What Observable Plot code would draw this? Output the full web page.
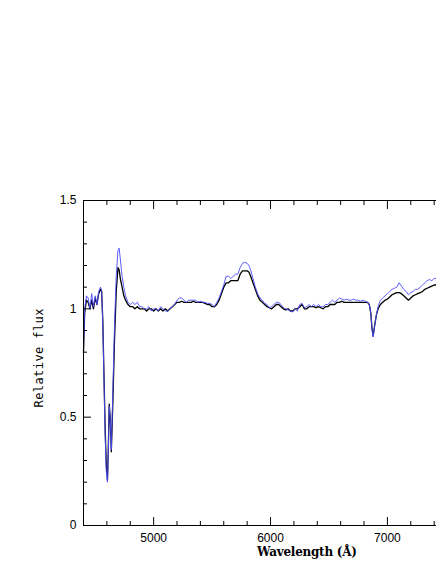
<!DOCTYPE html>
<html><head><meta charset="utf-8">
<script src="https://cdn.jsdelivr.net/npm/d3@7"></script>
<script src="https://cdn.jsdelivr.net/npm/@observablehq/plot@0.6"></script>
<style>
html,body{margin:0;padding:0;background:#fff;overflow:hidden;}
</style>
</head><body>
<div id="chart"></div>
<script>
const wavelength = [4400,4410,4425,4440,4455,4470,4485,4500,4515,4530,4545,4555,4565,4575,4585,4595,4605,4612,4620,4628,4638,4650,4665,4680,4695,4705,4715,4730,4745,4760,4780,4800,4820,4840,4860,4880,4900,4920,4940,4960,4980,5000,5020,5040,5060,5080,5100,5120,5140,5160,5180,5200,5220,5240,5260,5280,5300,5320,5340,5360,5380,5400,5420,5440,5460,5480,5500,5520,5540,5560,5580,5600,5620,5640,5660,5680,5700,5720,5740,5760,5780,5800,5815,5830,5850,5870,5890,5910,5930,5950,5970,5990,6010,6030,6050,6070,6090,6110,6130,6150,6170,6190,6210,6230,6250,6270,6290,6310,6330,6350,6370,6390,6410,6430,6450,6470,6490,6510,6530,6550,6570,6590,6610,6630,6650,6670,6690,6710,6730,6750,6770,6790,6810,6830,6845,6858,6868,6878,6890,6905,6920,6940,6960,6980,7000,7020,7040,7060,7080,7100,7120,7140,7160,7180,7200,7220,7240,7260,7280,7300,7320,7340,7360,7380,7400,7420];
const fluxBlack = [0.80,0.98,1.04,1.03,1.00,1.04,1.00,1.05,1.02,1.07,1.09,1.08,0.95,0.70,0.45,0.28,0.21,0.35,0.56,0.50,0.34,0.55,0.85,1.08,1.19,1.18,1.14,1.10,1.06,1.04,1.02,1.01,1.01,1.00,1.01,1.00,1.00,1.00,0.99,1.00,1.00,0.99,1.00,0.99,1.00,0.99,1.00,0.99,1.00,1.01,1.02,1.03,1.03,1.035,1.03,1.03,1.03,1.03,1.035,1.03,1.03,1.03,1.03,1.025,1.02,1.02,1.01,1.01,1.02,1.04,1.07,1.10,1.12,1.12,1.13,1.13,1.13,1.13,1.16,1.175,1.175,1.175,1.17,1.15,1.12,1.09,1.06,1.04,1.03,1.02,1.01,1.005,1.00,1.01,1.02,1.02,1.01,1.00,0.995,1.00,0.99,0.99,1.00,1.00,1.01,1.02,1.00,1.00,1.01,1.01,1.01,1.005,1.01,1.005,1.00,1.01,1.01,1.02,1.02,1.02,1.03,1.03,1.035,1.03,1.03,1.03,1.03,1.03,1.03,1.03,1.03,1.03,1.03,1.03,1.02,0.98,0.91,0.875,0.92,0.97,1.00,1.02,1.03,1.04,1.045,1.055,1.065,1.07,1.075,1.075,1.07,1.06,1.05,1.04,1.05,1.06,1.065,1.07,1.075,1.08,1.09,1.095,1.10,1.105,1.11,1.11];
const fluxBlue = [0.82,1.00,1.06,1.05,1.00,1.07,1.01,1.06,1.02,1.08,1.10,1.09,0.93,0.68,0.42,0.25,0.20,0.33,0.55,0.50,0.35,0.60,0.92,1.15,1.27,1.28,1.23,1.15,1.10,1.06,1.03,1.02,1.03,1.02,1.03,1.01,1.01,1.00,1.00,1.01,0.99,1.00,1.00,0.99,1.01,1.00,0.99,0.99,1.00,1.01,1.02,1.04,1.05,1.05,1.04,1.03,1.04,1.04,1.04,1.04,1.03,1.035,1.03,1.03,1.025,1.025,1.02,1.01,1.03,1.05,1.08,1.11,1.15,1.15,1.14,1.15,1.16,1.16,1.19,1.21,1.215,1.21,1.20,1.18,1.14,1.10,1.07,1.05,1.04,1.025,1.02,1.005,1.01,1.02,1.03,1.03,1.02,1.005,1.00,0.995,0.99,0.985,1.00,0.99,1.02,1.025,1.005,1.01,1.02,1.01,1.02,1.01,1.02,1.01,1.01,1.02,1.02,1.03,1.04,1.03,1.04,1.05,1.045,1.04,1.045,1.04,1.04,1.045,1.04,1.04,1.035,1.04,1.035,1.03,1.02,0.98,0.91,0.87,0.92,0.97,1.01,1.04,1.05,1.06,1.07,1.08,1.09,1.095,1.10,1.12,1.105,1.09,1.08,1.065,1.075,1.08,1.09,1.09,1.10,1.11,1.12,1.13,1.135,1.13,1.14,1.14];

const xDomain = [4400, 7420];
const yDomain = [0, 1.5];
const xMajor = [5000, 6000, 7000];
const xMinor = [4600, 4800, 5200, 5400, 5600, 5800, 6200, 6400, 6600, 6800, 7200, 7400];
const yMajor = [0, 0.5, 1, 1.5];
const yMinor = [0.1, 0.2, 0.3, 0.4, 0.6, 0.7, 0.8, 0.9, 1.1, 1.2, 1.3, 1.4];
const yLabels = ["0", "0.5", "1", "1.5"];
const xTitle = ["Wavelength (Å)"];
const yTitle = ["Relative flux"];

const rows = wavelength.map((w, i) => ({wl: w, black: fluxBlack[i], blue: fluxBlue[i]}));
const blank = () => "";

const chart = Plot.plot({
  width: 436, height: 564,
  marginTop: 200, marginBottom: 39, marginLeft: 83, marginRight: 0,
  x: {domain: xDomain},
  y: {domain: yDomain},
  style: {fontFamily: "Liberation Sans, Arial, sans-serif", fontSize: "12px", color: "black", background: "white", overflow: "visible"},
  marks: [
    Plot.line(rows, {x: "wl", y: "black", stroke: "black", strokeWidth: 1.3}),
    Plot.line(rows, {x: "wl", y: "blue", stroke: "#4b4bff", strokeWidth: 0.9}),
    Plot.ruleX([xDomain[0]], {stroke: "black", strokeWidth: 1}),
    Plot.ruleY([yDomain[0], yDomain[1]], {stroke: "black", strokeWidth: 1}),
    Plot.axisX({anchor: "bottom", ticks: xMajor, tickSize: 8, dy: -8, tickFormat: blank, label: null}),
    Plot.axisX({anchor: "bottom", ticks: xMinor, tickSize: 4, dy: -4, tickFormat: blank, label: null}),
    Plot.axisX({anchor: "bottom", ticks: xMajor, tickSize: 0, tickPadding: 8, tickFormat: d => String(d), label: null, fontSize: 12}),
    Plot.axisX({anchor: "top", ticks: xMajor, tickSize: 8, dy: 8, tickFormat: blank, label: null}),
    Plot.axisX({anchor: "top", ticks: xMinor, tickSize: 4, dy: 4, tickFormat: blank, label: null}),
    Plot.axisY({anchor: "left", ticks: yMajor, tickSize: 8, dx: 8, tickFormat: blank, label: null}),
    Plot.axisY({anchor: "left", ticks: yMinor, tickSize: 4, dx: 4, tickFormat: blank, label: null}),
    Plot.axisY({anchor: "left", ticks: yMajor, tickSize: 0, tickPadding: 7, tickFormat: d => yLabels[yMajor.indexOf(d)], label: null, fontSize: 12}),
    Plot.text(xTitle, {frameAnchor: "bottom", dx: 47, dy: 30, text: d => d, fontFamily: "DejaVu Serif, serif", fontSize: 12, fontWeight: "bold", textAnchor: "middle", fill: "black"}),
    Plot.text(yTitle, {frameAnchor: "left", dx: -44, dy: -5, rotate: -90, text: d => d, fontFamily: "DejaVu Sans Mono, monospace", fontSize: 12, textAnchor: "middle", fill: "black"})
  ]
});
document.getElementById("chart").appendChild(chart);
// stretch titles to the reference's text widths
chart.querySelectorAll("text").forEach(t => {
  if (t.textContent === xTitle[0]) { t.setAttribute("textLength", 100); t.setAttribute("lengthAdjust", "spacing"); }
  if (t.textContent === yTitle[0]) { t.setAttribute("textLength", 99); t.setAttribute("lengthAdjust", "spacing"); }
});
</script>
</body></html>
